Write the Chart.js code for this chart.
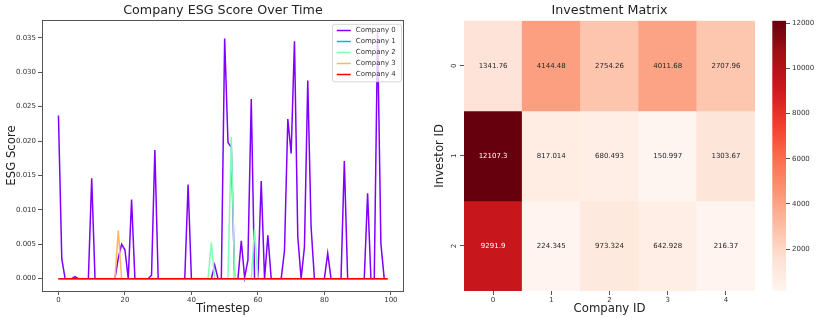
<!DOCTYPE html>
<html><head><meta charset="utf-8">
<script src="https://cdn.jsdelivr.net/npm/chart.js@4/dist/chart.umd.min.js"></script>
<style>
html,body{margin:0;padding:0;background:#fff;width:830px;height:318px;overflow:hidden;}
canvas{position:absolute;top:0;}
</style></head><body>
<canvas id="lineChart" width="446" height="318" style="left:0;width:446px;height:318px"></canvas>
<canvas id="heatChart" width="350" height="318" style="left:420px;width:350px;height:318px"></canvas>
<canvas id="barChart" width="70" height="318" style="left:760px;width:70px;height:318px"></canvas>
<script>
// ---------- data ----------
const timesteps = [
  0,1,2,3,4,5,6,7,8,9,10,11,12,13,14,15,16,17,18,19,
  20,21,22,23,24,25,26,27,28,29,30,31,32,33,34,35,36,37,38,39,
  40,41,42,43,44,45,46,47,48,49,50,51,52,53,54,55,56,57,58,59,
  60,61,62,63,64,65,66,67,68,69,70,71,72,73,74,75,76,77,78,79,
  80,81,82,83,84,85,86,87,88,89,90,91,92,93,94,95,96,97,98,99];
const seriesNames = ['Company 0','Company 1','Company 2','Company 3','Company 4'];
const company0 = [
  0.0237,0.0029,0,0,0,0.0003,0,0,0,0,
  0.0146,0,0,0,0,0,0,0,0.0030,0.0050,
  0.0042,0,0.0115,0,0,0,0,0,0.0005,0.0187,
  0,0,0,0,0,0,0,0,0,0.0137,
  0,0,0,0,0,0,0,0.0020,0,0,
  0.0349,0.0198,0.0191,0,0,0.0055,0.0002,0.0027,0.0261,0,
  0,0.0142,0,0.0063,0,0,0,0,0.0041,0.0232,
  0.0182,0.0345,0.0061,0,0.0046,0.0288,0.0075,0,0,0,
  0,0.0037,0,0,0,0,0.0171,0,0,0,
  0,0,0,0.0124,0,0,0.0358,0.0051,0,0];
const company1 = [
  0,0,0,0,0,0,0,0,0,0, 0,0,0,0,0,0,0,0,0,0,
  0,0,0,0,0,0,0,0,0,0, 0,0,0,0,0,0,0,0,0,0,
  0,0,0,0,0,0,0,0,0,0, 0,0,0,0,0,0,0,0,0,0,
  0,0,0,0,0,0,0,0,0,0, 0,0,0,0,0,0,0,0,0,0,
  0,0,0,0,0,0,0,0,0,0, 0,0,0,0,0,0,0,0,0,0];
const company2 = [
  0,0,0,0,0,0,0,0,0,0, 0,0,0,0,0,0,0,0,0,0,
  0,0,0,0,0,0,0,0,0,0, 0,0,0,0,0,0,0,0,0,0,
  0,0,0,0,0,0,0.0053,0,0,0, 0,0,0.0206,0,0,0,0,0,0,0.0073,
  0,0,0,0,0,0,0,0,0,0, 0,0,0,0,0,0,0,0,0,0,
  0,0,0,0,0,0,0,0,0,0, 0,0,0,0,0,0,0,0,0,0];
const company3 = [
  0,0,0,0,0,0,0,0,0,0, 0,0,0,0,0,0,0,0,0.0070,0,
  0,0,0,0,0,0,0,0,0,0, 0,0,0,0,0,0,0,0,0,0,
  0,0,0,0,0,0,0,0,0,0, 0,0,0,0,0,0,0,0,0,0,
  0,0,0,0,0,0,0,0,0,0, 0,0,0,0,0,0,0,0,0,0,
  0,0,0,0,0,0,0,0,0,0, 0,0,0,0,0,0,0,0,0,0];
const company4 = [
  0,0,0,0,0,0,0,0,0,0, 0,0,0,0,0,0,0,0,0,0,
  0,0,0,0,0,0,0,0,0,0, 0,0,0,0,0,0,0,0,0,0,
  0,0,0,0,0,0,0,0,0,0, 0,0,0,0,0,0,0,0,0,0,
  0,0,0,0,0,0,0,0,0,0, 0,0,0,0,0,0,0,0,0,0,
  0,0,0,0,0,0,0,0,0,0, 0,0,0,0,0,0,0,0,0,0];
const xTicks = [0,20,40,60,80,100];
const yTicks = [0,0.005,0.010,0.015,0.020,0.025,0.030,0.035];

const companies = ['0','1','2','3','4'];
const investors = ['0','1','2'];
const investRow0 = [1341.76, 4144.48, 2754.26, 4011.68, 2707.96];
const investRow1 = [12107.3, 817.014, 680.493, 150.997, 1303.67];
const investRow2 = [9291.9, 224.345, 973.324, 642.928, 216.37];
const colorbarTicks = [2000,4000,6000,8000,10000,12000];

// ---------- styling ----------
const FONT = "'DejaVu Sans', sans-serif";
Chart.defaults.font.family = FONT;
Chart.defaults.color = '#333';
const seriesColors = ['#8000ff','#00b5ec','#80ffb4','#ffb462','#ff0000'];
const REDS = ['#fff5f0','#fee0d2','#fcbba1','#fc9272','#fb6a4a','#ef3b2c','#cb181d','#a50f15','#67000d'];
const AXIS = '#555555';

function hexToRgb(h){return [parseInt(h.slice(1,3),16),parseInt(h.slice(3,5),16),parseInt(h.slice(5,7),16)];}
function reds(t){
  t = Math.max(0, Math.min(1, t));
  const p = t*(REDS.length-1), i = Math.min(Math.floor(p), REDS.length-2), f = p - i;
  const a = hexToRgb(REDS[i]), b = hexToRgb(REDS[i+1]);
  const c = a.map((v,k)=>Math.round(v+(b[k]-v)*f));
  return 'rgb('+c.join(',')+')';
}
function textColorFor(rgbStr){
  const c = rgbStr.match(/\d+/g).map(Number).map(v=>{v/=255;return v<=0.03928?v/12.92:Math.pow((v+0.055)/1.055,2.4);});
  const lum = 0.2126*c[0]+0.7152*c[1]+0.0722*c[2];
  return lum > 0.408 ? '#262626' : '#ffffff';
}
function fmtG(v){return String(parseFloat(v.toPrecision(6)));}

// ---------- line chart ----------
const allSeries = [company0, company1, company2, company3, company4];
const yMaxData = Math.max(...allSeries.flat());
const xMaxData = Math.max(...timesteps), xMinData = Math.min(...timesteps);
const xMargin = 0.05*(xMaxData-xMinData), yMargin = 0.05*yMaxData;

const framePlugin = {
  id:'frameLegend',
  afterDatasetsDraw(chart){
    const a = chart.chartArea, ctx = chart.ctx;
    ctx.save();
    ctx.strokeStyle = AXIS; ctx.lineWidth = 1;
    ctx.strokeRect(Math.round(a.left)+0.5, Math.round(a.top)+0.5, Math.round(a.right-a.left)-1, Math.round(a.bottom-a.top));
    // legend box (upper right, inside axes)
    const w = 69, h = 57.5;
    const x0 = a.right - 2.5 - w, y0 = a.top + 4.3;
    ctx.beginPath();
    if (ctx.roundRect) ctx.roundRect(x0, y0, w, h, 2); else ctx.rect(x0, y0, w, h);
    ctx.fillStyle = 'rgba(255,255,255,0.8)'; ctx.fill();
    ctx.strokeStyle = '#cccccc'; ctx.lineWidth = 0.8; ctx.stroke();
    chart.data.datasets.forEach((ds, i) => {
      const y = y0 + 6.2 + i*11;
      ctx.strokeStyle = ds.borderColor; ctx.lineWidth = 1.5;
      ctx.beginPath(); ctx.moveTo(x0+4.3, y); ctx.lineTo(x0+18.3, y); ctx.stroke();
      ctx.fillStyle = '#333'; ctx.font = '7px ' + FONT; ctx.textBaseline = 'middle'; ctx.textAlign = 'left';
      ctx.fillText(ds.label, x0+23.3, y);
    });
    ctx.restore();
  }
};

new Chart(document.getElementById('lineChart'), {
  type:'line',
  data:{
    datasets: seriesNames.map((name, i) => ({
      label: name,
      data: timesteps.map((t, j) => ({x: t, y: allSeries[i][j]})),
      borderColor: seriesColors[i],
      backgroundColor: seriesColors[i],
      borderWidth: 1.5,
      pointRadius: 0,
      pointHoverRadius: 0,
      tension: 0,
      fill: false,
      order: seriesNames.length - 1 - i
    }))
  },
  options:{
    responsive:false, animation:false, devicePixelRatio:1,
    layout:{padding:{left:0,right:42,top:0,bottom:0}},
    plugins:{
      legend:{display:false}, tooltip:{enabled:false},
      title:{display:true, text:'Company ESG Score Over Time', fullSize:false, color:'#222',
        font:{size:12.7, weight:'normal'}, padding:{top:3.2, bottom:1.56}}
    },
    scales:{
      x:{type:'linear', min:xMinData-xMargin, max:xMaxData+xMargin,
        afterBuildTicks:s=>{s.ticks = xTicks.map(v=>({value:v}));},
        ticks:{font:{size:7}, padding:1, color:'#333', maxRotation:0, autoSkip:false, callback:v=>String(v)},
        grid:{drawOnChartArea:false, drawTicks:true, tickLength:4, tickColor:AXIS, tickWidth:1},
        border:{display:false},
        title:{display:true, text:'Timestep', color:'#222', font:{size:11.7}, padding:{top:0,bottom:1.8}},
        afterFit:s=>{s.height = 27;}
      },
      y:{type:'linear', min:-yMargin, max:yMaxData+yMargin,
        afterBuildTicks:s=>{s.ticks = yTicks.map(v=>({value:v}));},
        ticks:{font:{size:7}, padding:2, color:'#333', autoSkip:false, callback:v=>v.toFixed(3)},
        grid:{drawOnChartArea:false, drawTicks:true, tickLength:4, tickColor:AXIS, tickWidth:1},
        border:{display:false},
        title:{display:true, text:'ESG Score', color:'#222', font:{size:11.7}, padding:{top:4.5,bottom:0}},
        afterFit:s=>{s.width = 42;}
      }
    }
  },
  plugins:[framePlugin]
});

// ---------- heatmap ----------
const heatRows = [investRow0, investRow1, investRow2];
const allVals = heatRows.flat();
const vmin = Math.min(...allVals), vmax = Math.max(...allVals);
const norm = v => (v - vmin)/(vmax - vmin);

const annotatePlugin = {
  id:'annotate',
  afterDatasetsDraw(chart){
    const ctx = chart.ctx;
    ctx.save();
    ctx.font = '7px ' + FONT; ctx.textAlign = 'center'; ctx.textBaseline = 'middle';
    chart.data.datasets.forEach((ds, r) => {
      const meta = chart.getDatasetMeta(r);
      meta.data.forEach((bar, c) => {
        const p = bar.getProps(['x','y','base'], true);
        ctx.fillStyle = textColorFor(ds.backgroundColor[c]);
        ctx.fillText(fmtG(heatRows[r][c]), p.x, (p.y + p.base)/2);
      });
    });
    ctx.restore();
  }
};

new Chart(document.getElementById('heatChart'), {
  type:'bar',
  data:{
    labels: companies,
    datasets: heatRows.map((row, r) => ({
      label: 'Investor ' + investors[r],
      data: row.map(() => [r, r + 1]),
      backgroundColor: row.map(v => reds(norm(v))),
      borderWidth: 0,
      barPercentage: 1, categoryPercentage: 1,
      grouped: false
    }))
  },
  options:{
    responsive:false, animation:false, devicePixelRatio:1,
    layout:{padding:{left:0,right:15,top:0,bottom:0}},
    plugins:{
      legend:{display:false}, tooltip:{enabled:false},
      title:{display:true, text:'Investment Matrix', fullSize:false, color:'#222',
        font:{size:12.7, weight:'normal'}, padding:{top:3.5, bottom:1.96}}
    },
    scales:{
      x:{type:'category', offset:true,
        grid:{offset:false, drawOnChartArea:false, drawTicks:true, tickLength:4, tickColor:AXIS},
        border:{display:false},
        ticks:{font:{size:7}, padding:1, color:'#333', maxRotation:0},
        title:{display:true, text:'Company ID', color:'#222', font:{size:11.7}, padding:{top:0,bottom:1.8}},
        afterFit:s=>{s.height = 27;}
      },
      y:{type:'linear', min:0, max:investors.length, reverse:true,
        afterBuildTicks:s=>{s.ticks = investors.map((_, i)=>({value:i + 0.5}));},
        ticks:{font:{size:7}, padding:6, color:'#333', minRotation:90, maxRotation:90, autoSkip:false,
          labelOffset:-2.2, callback:v=>investors[Math.floor(v)]},
        grid:{drawOnChartArea:false, drawTicks:true, tickLength:4, tickColor:AXIS},
        border:{display:false},
        title:{display:true, text:'Investor ID', color:'#222', font:{size:11.7}, padding:{top:13,bottom:0}},
        afterFit:s=>{s.width = 44;}
      }
    }
  },
  plugins:[annotatePlugin]
});

// ---------- colorbar ----------
new Chart(document.getElementById('barChart'), {
  type:'bar',
  data:{
    labels:[''],
    datasets:[{
      label:'scale',
      data:[[vmin, vmax]],
      backgroundColor:(c)=>{
        const a = c.chart.chartArea; if (!a) return REDS[4];
        const g = c.chart.ctx.createLinearGradient(0, a.bottom, 0, a.top);
        REDS.forEach((col, i)=>g.addColorStop(i/(REDS.length-1), col));
        return g;
      },
      borderWidth:0, barPercentage:1, categoryPercentage:1
    }]
  },
  options:{
    responsive:false, animation:false, devicePixelRatio:1,
    layout:{padding:{left:12.3, right:0, top:20.7, bottom:27}},
    plugins:{legend:{display:false}, tooltip:{enabled:false}},
    scales:{
      x:{display:false, offset:true},
      y:{type:'linear', position:'right', min:vmin, max:vmax,
        afterBuildTicks:s=>{s.ticks = colorbarTicks.map(v=>({value:v}));},
        ticks:{font:{size:7}, padding:2, color:'#333', autoSkip:false, callback:v=>String(v)},
        grid:{drawOnChartArea:false, drawTicks:true, tickLength:4, tickColor:AXIS},
        border:{display:false},
        afterFit:s=>{s.width = 44;}
      }
    }
  }
});
</script>
</body></html>
